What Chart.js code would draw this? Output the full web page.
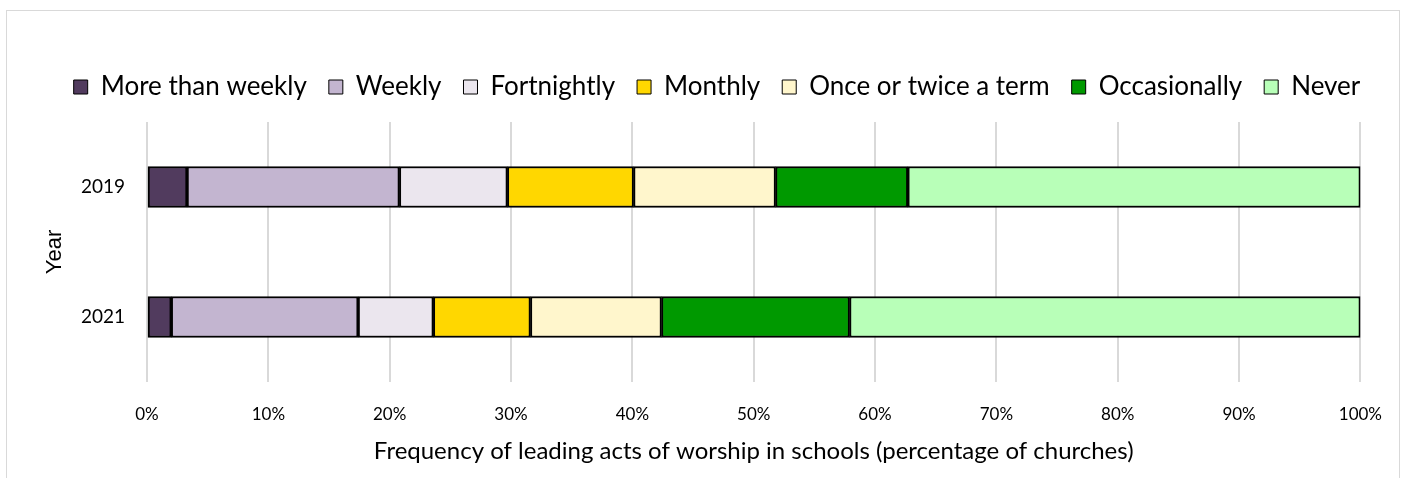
<!DOCTYPE html>
<html>
<head>
<meta charset="utf-8">
<script src="https://cdn.jsdelivr.net/npm/chart.js@4"></script>
<style>
  html, body { margin: 0; padding: 0; background: #fff; }
  #wrap { position: relative; width: 1404px; height: 478px; overflow: hidden; }
  #frame { position: absolute; left: 6px; top: 10px; width: 1392px; height: 500px; border: 1px solid #d9d9d9; }
  #charts { position: absolute; left: 0; top: 0; }
</style>
</head>
<body>
<div id="wrap">
  <div id="frame"></div>
  <canvas id="charts" width="1404" height="478"></canvas>
</div>
<script>
// years on the category axis
const years = ['2019', '2021'];

// share of churches (%) for each frequency, per year
const moreThanWeekly = [3.3, 2.0];
const weekly = [17.5, 15.4];
const fortnightly = [8.9, 6.2];
const monthly = [10.4, 8.0];
const onceOrTwiceATerm = [11.7, 10.8];
const occasionally = [10.9, 15.5];
const never = [37.3, 42.1];

const xTicks = [0, 10, 20, 30, 40, 50, 60, 70, 80, 90, 100];

const gill = "'Lato', 'Open Sans', sans-serif";

const series = [
  { label: 'More than weekly', data: moreThanWeekly, color: '#513b5e' },
  { label: 'Weekly', data: weekly, color: '#c3b5d0' },
  { label: 'Fortnightly', data: fortnightly, color: '#ebe6ee' },
  { label: 'Monthly', data: monthly, color: '#ffd700' },
  { label: 'Once or twice a term', data: onceOrTwiceATerm, color: '#fff6cc' },
  { label: 'Occasionally', data: occasionally, color: '#009900' },
  { label: 'Never', data: never, color: '#b8ffb8' }
];

// extra room under the legend, and nudge it right like the original
const legendGap = {
  id: 'legendGap',
  beforeInit(chart) {
    const fit = chart.legend.fit;
    chart.legend.fit = function () {
      fit.bind(chart.legend)();
      this.height += 12;
    };
  },
  beforeDraw(chart) {
    chart.legend.left += 20;
    chart.legend.right += 20;
  }
};

const setChart = () => {
  const ctx = document.getElementById('charts').getContext('2d');
  new Chart(ctx, {
    type: 'bar',
    plugins: [legendGap],
    data: {
      labels: years,
      datasets: series.map(s => ({
        label: s.label,
        data: s.data,
        backgroundColor: s.color,
        borderColor: '#000',
        borderWidth: 2,
        borderSkipped: false,
        barThickness: 41
      }))
    },
    options: {
      indexAxis: 'y',
      responsive: false,
      animation: false,
      layout: { padding: { top: 52, left: 30, right: 40, bottom: 0 } },
      plugins: {
        tooltip: { enabled: false },
        legend: {
          position: 'top',
          labels: {
            boxWidth: 14,
            boxHeight: 14,
            padding: 22,
            color: '#000',
            font: { family: gill, size: 26 },
            generateLabels: (chart) => chart.data.datasets.map((d, i) => ({
              text: d.label,
              fillStyle: d.backgroundColor,
              strokeStyle: '#000',
              lineWidth: 1,
              datasetIndex: i
            }))
          }
        }
      },
      scales: {
        x: {
          stacked: true,
          min: 0,
          max: 100,
          afterBuildTicks: (scale) => { scale.ticks = xTicks.map(v => ({ value: v })); },
          afterFit: (scale) => { scale.height = 96; },
          grid: { color: '#d9d9d9', lineWidth: 2, drawTicks: false },
          border: { display: false },
          ticks: {
            padding: 22,
            color: '#000',
            font: { family: gill, size: 17 },
            callback: (v) => v + '%'
          },
          title: {
            display: true,
            text: 'Frequency of leading acts of worship in schools (percentage of churches)',
            color: '#000',
            font: { family: gill, size: 24 },
            padding: { top: 0, bottom: 12 }
          }
        },
        y: {
          stacked: true,
          afterFit: (scale) => { scale.width = 117; },
          grid: { display: false, drawTicks: false },
          border: { display: false },
          ticks: {
            padding: 22,
            color: '#000',
            font: { family: gill, size: 19 }
          },
          title: {
            display: true,
            text: 'Year',
            color: '#000',
            font: { family: "'Liberation Sans', Arial, sans-serif", size: 22 },
            padding: { top: 12, bottom: 0 }
          }
        }
      }
    }
  });
};

setChart();
</script>
</body>
</html>
